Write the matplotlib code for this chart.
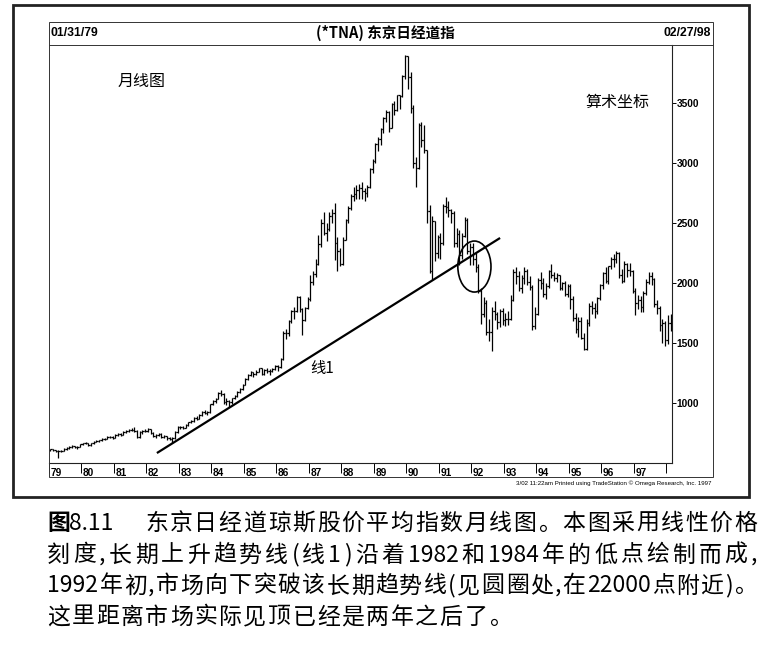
import re
import numpy as np
import matplotlib
matplotlib.use('Agg')
import matplotlib.pyplot as plt
from matplotlib.patches import Rectangle, Ellipse
from matplotlib.lines import Line2D
import matplotlib.transforms as mtransforms

plt.rcParams['font.family'] = ['Noto Sans CJK SC', 'DejaVu Sans']

W, H = 769, 651

# monthly bars Jan 1979 .. Feb 1998, index value / 10
highs = [
    620, 618, 612, 605, 607, 622, 630, 640, 648, 642, 640, 660,
    668, 675, 670, 668, 682, 690, 695, 705, 712, 725, 728, 722,
    740, 752, 748, 770, 778, 785, 790, 802, 772, 765, 775, 782,
    790, 785, 755, 738, 752, 748, 730, 725, 715, 715, 765, 805,
    812, 808, 825, 845, 858, 880, 888, 905, 930, 940, 932, 995,
    1025, 1040, 1090, 1110, 1085, 1040, 1025, 1045, 1065, 1100, 1125, 1160,
    1210, 1240, 1265, 1262, 1275, 1295, 1290, 1285, 1290, 1282, 1295, 1318,
    1320, 1375, 1600, 1620, 1690, 1775, 1800, 1895, 1890, 1790, 1800, 1885,
    2070, 2100, 2200, 2400, 2530, 2593, 2500, 2590, 2620, 2665, 2380, 2290,
    2380, 2530, 2640, 2740, 2800, 2820, 2825, 2840, 2790, 2820, 2960, 3030,
    3165, 3220, 3290, 3380, 3440, 3430, 3500, 3520, 3570, 3570, 3730, 3896,
    3895, 3760, 3480, 3050, 3330, 3340, 3320, 3110, 2650, 2560, 2520, 2400,
    2420, 2660, 2715, 2680, 2620, 2600, 2460, 2440, 2420, 2550, 2540, 2330,
    2330, 2250, 2160, 1960, 1880, 1860, 1700, 1800, 1850, 1760, 1780, 1790,
    1750, 1770, 1900, 2120, 2130, 2100, 2070, 2130, 2115, 2060, 1980, 1800,
    2040, 2090, 2040, 2000, 2110, 2155, 2090, 2080, 2070, 2010, 2020, 1990,
    1990, 1890, 1750, 1720, 1720, 1580, 1700, 1830, 1850, 1830, 1880, 1995,
    2090, 2130, 2145, 2220, 2240, 2267, 2260, 2120, 2180, 2170, 2170, 2110,
    1960, 1900, 1890, 1930, 2030, 2091, 2090, 2040, 1860, 1810, 1700, 1680,
    1730, 1740,
]
lows = [
    600, 598, 592, 540, 590, 598, 612, 620, 628, 622, 620, 632,
    650, 655, 640, 645, 660, 672, 678, 685, 692, 700, 705, 700,
    712, 728, 722, 735, 752, 760, 765, 760, 705, 710, 745, 755,
    760, 745, 715, 712, 728, 712, 705, 695, 690, 670, 700, 752,
    785, 782, 795, 812, 830, 845, 862, 865, 890, 905, 900, 920,
    985, 1000, 1030, 1060, 990, 985, 968, 990, 1030, 1050, 1085, 1110,
    1150, 1190, 1225, 1220, 1235, 1255, 1230, 1235, 1250, 1235, 1255, 1275,
    1270, 1290, 1360, 1530, 1560, 1665, 1700, 1760, 1760, 1570, 1680, 1780,
    1850, 1980, 2050, 2150, 2300, 2400, 2350, 2430, 2500, 2190, 2104, 2140,
    2150, 2360, 2500, 2610, 2680, 2700, 2700, 2700, 2680, 2720, 2790, 2920,
    3000, 3100, 3150, 3250, 3340, 3260, 3290, 3400, 3430, 3450, 3550, 3700,
    3620, 3420, 2960, 2800, 2950, 3130, 3080, 2500, 2080, 2022, 2180, 2210,
    2200, 2320, 2580, 2550, 2500, 2300, 2300, 2150, 2200, 2380, 2240, 2150,
    2150, 2090, 1920, 1660, 1720, 1570, 1520, 1431, 1690, 1620, 1630, 1650,
    1640, 1650, 1690, 1850, 1990, 1930, 1920, 1990, 1980, 1940, 1608, 1620,
    1730, 1950, 1880, 1870, 1960, 2040, 2020, 2010, 1940, 1940, 1890, 1880,
    1780, 1680, 1580, 1550, 1530, 1440, 1445, 1640, 1740, 1710, 1740, 1860,
    1950, 2000, 1990, 2120, 2130, 2170, 2040, 2000, 2010, 2050, 2060, 1920,
    1730, 1780, 1760, 1760, 1900, 1990, 1980, 1800, 1740, 1600, 1500, 1478,
    1490, 1600,
]
closes = [
    613, 606, 600, 597, 600, 618, 625, 636, 640, 630, 636, 657,
    663, 668, 648, 664, 678, 685, 690, 700, 704, 718, 716, 712,
    735, 745, 735, 762, 770, 778, 775, 770, 715, 760, 768, 768,
    782, 752, 722, 730, 745, 718, 722, 705, 700, 705, 758, 802,
    800, 795, 818, 838, 850, 875, 870, 898, 922, 915, 925, 989,
    1020, 1032, 1085, 1075, 1010, 1020, 1005, 1040, 1055, 1095, 1115, 1154,
    1199, 1230, 1258, 1240, 1262, 1288, 1245, 1275, 1270, 1265, 1285, 1311,
    1302, 1364, 1586, 1583, 1680, 1765, 1770, 1880, 1780, 1690, 1790, 1870,
    2005, 2077, 2157, 2327, 2500, 2418, 2449, 2560, 2580, 2333, 2269, 2156,
    2362, 2524, 2626, 2726, 2742, 2777, 2790, 2770, 2750, 2800, 2950, 3016,
    3158, 3199, 3284, 3371, 3427, 3295, 3495, 3443, 3564, 3555, 3727, 3892,
    3719, 3459, 2998, 2958, 3313, 3194, 3104, 2598, 2098, 2519, 2246, 2385,
    2329, 2641, 2629, 2611, 2579, 2329, 2412, 2234, 2392, 2522, 2269, 2298,
    2202, 2134, 1935, 1739, 1835, 1595, 1591, 1766, 1740, 1677, 1768, 1693,
    1699, 1702, 1859, 2092, 2055, 1959, 2038, 2103, 2011, 1970, 1641, 1742,
    2023, 2000, 1911, 1973, 2097, 2064, 2045, 2063, 1956, 1999, 1908, 1972,
    1865, 1705, 1614, 1681, 1544, 1452, 1668, 1812, 1791, 1766, 1874, 1987,
    2081, 2013, 2141, 2204, 2196, 2253, 2069, 2017, 2156, 2106, 2102, 1936,
    1833, 1856, 1800, 1915, 2007, 2061, 2033, 1823, 1789, 1646, 1664, 1526,
    1663, 1683,
]
first_open = 608
start_year = 1979

year_ticks = list(range(1979, 1999))
year_labels = ['79', '80', '81', '82', '83', '84', '85', '86', '87', '88',
               '89', '90', '91', '92', '93', '94', '95', '96', '97', '']
price_ticks = [1000, 1500, 2000, 2500, 3000, 3500]

# trend line 1 and the break circle (year, value)
trend_x = [1982.32, 1992.88]
trend_y = [583, 2375]
circle_xy = (1992.09, 2137)
circle_wh = (1.02, 425)

caption = [
    '东京日经道琼斯股价平均指数月线图。本图采用线性价格',
    '刻度,长期上升趋势线(线1)沿着1982和1984年的低点绘制而成,',
    '1992年初,市场向下突破该长期趋势线(见圆圈处,在22000点附近)。',
    '这里距离市场实际见顶已经是两年之后了。',
]


def fx(x):
    return x / W


def fy(y):
    return 1 - y / H


fig = plt.figure(figsize=(W / 100, H / 100), dpi=100)
fig.patch.set_facecolor('white')

# frames
fig.add_artist(Rectangle((fx(13), fy(497)), (749 - 13) / W, (497 - 5) / H,
                         transform=fig.transFigure, fill=False, lw=2.0, ec='#222222'))
fig.add_artist(Rectangle((fx(49), fy(477)), (713 - 49) / W, (477 - 22) / H,
                         transform=fig.transFigure, fill=False, lw=0.7, ec='#333333'))
fig.add_artist(Line2D([fx(49), fx(713)], [fy(45), fy(45)],
                      transform=fig.transFigure, lw=0.7, color='#333333'))

ax = fig.add_axes([fx(49), fy(463), (672 - 49) / W, (463 - 45) / H])
ax.set_facecolor('white')

n = len(closes)
xm = start_year + (np.arange(n) + 0.5) / 12
opens = [first_open] + closes[:-1]
tw = 0.042
ax.vlines(xm, lows, highs, color='black', lw=0.9)
ax.hlines(opens, xm - tw, xm, color='black', lw=0.9)
ax.hlines(closes, xm, xm + tw, color='black', lw=0.9)

ax.plot(trend_x, trend_y, color='black', lw=1.6, solid_capstyle='butt')
ax.add_patch(Ellipse(circle_xy, circle_wh[0], circle_wh[1], fill=False, ec='black', lw=1.2))

ax.set_xlim(1979.0, 1998.17)
ax.set_ylim(500, 3983)

for s in ['top', 'left']:
    ax.spines[s].set_visible(False)
for s in ['right', 'bottom']:
    ax.spines[s].set_linewidth(0.8)
    ax.spines[s].set_color('#222222')

ax.yaxis.tick_right()
ax.set_yticks(price_ticks)
ax.set_yticklabels([str(v) for v in price_ticks], family='Liberation Sans',
                   fontsize=7.3, fontweight='bold')
ax.tick_params(axis='y', direction='out', length=3, width=0.7, pad=0.5)

ax.set_xticks(year_ticks)
ax.set_xticklabels([])
ax.tick_params(axis='x', direction='out', length=7, width=0.7)
trans = mtransforms.blended_transform_factory(ax.transData, ax.transAxes)
for yr, lab in zip(year_ticks, year_labels):
    ax.text(yr + 0.05, -0.023, lab, transform=trans, ha='left', va='center',
            family='Liberation Sans', fontsize=7.3, fontweight='bold')

# header and labels
fig.text(fx(50), fy(33), '01/31/79', ha='left', va='center', family='Liberation Sans',
         fontsize=8.8, fontweight='bold')
fig.text(fx(711), fy(33), '02/27/98', ha='right', va='center', family='Liberation Sans',
         fontsize=8.8, fontweight='bold')
fig.text(fx(385), fy(33), '(*TNA) 东京日经道指', ha='center', va='center', fontsize=10.5,
         fontweight='bold')
fig.text(fx(142), fy(81), '月线图', ha='center', va='center', fontsize=11.5, fontweight='medium')
fig.text(fx(617), fy(102), '算术坐标', ha='center', va='center', fontsize=11.5, fontweight='medium')
fig.text(fx(322), fy(368), '线1', ha='center', va='center', fontsize=11)
fig.text(fx(711), fy(483), '3/02 11:22am Printed using TradeStation \u00a9 Omega Research, Inc. 1997',
         ha='right', va='center', family='Liberation Sans', fontsize=4.4)

# caption, justified line by line
renderer = fig.canvas.get_renderer()
cap_size = 16.5


def token_widths(toks):
    ws = []
    for t in toks:
        tt = fig.text(0, 0, t, fontsize=cap_size)
        ws.append(tt.get_window_extent(renderer).width)
        tt.remove()
    return ws


def put_line(s, y, x0, x1=None, gap=None):
    toks = re.findall(r'[0-9.]+|\S', s)
    ws = token_widths(toks)
    if gap is None:
        gap = (x1 - x0 - sum(ws)) / (len(toks) - 1)
    x = x0
    for t, w in zip(toks, ws):
        fig.text(fx(x), fy(y), t, ha='left', va='center', fontsize=cap_size)
        x += w + gap
    return gap


fig.text(fx(47), fy(523), '图', ha='left', va='center', fontsize=cap_size, fontweight='bold')
fig.text(fx(69), fy(523), '8.11', ha='left', va='center', fontsize=cap_size)
g = put_line(caption[0], 523, 145, 757)
put_line(caption[1], 555, 47, 757)
put_line(caption[2], 586, 47, 757)
put_line(caption[3], 617, 47, gap=g)

fig.savefig('out.png', dpi=100, facecolor='white')
